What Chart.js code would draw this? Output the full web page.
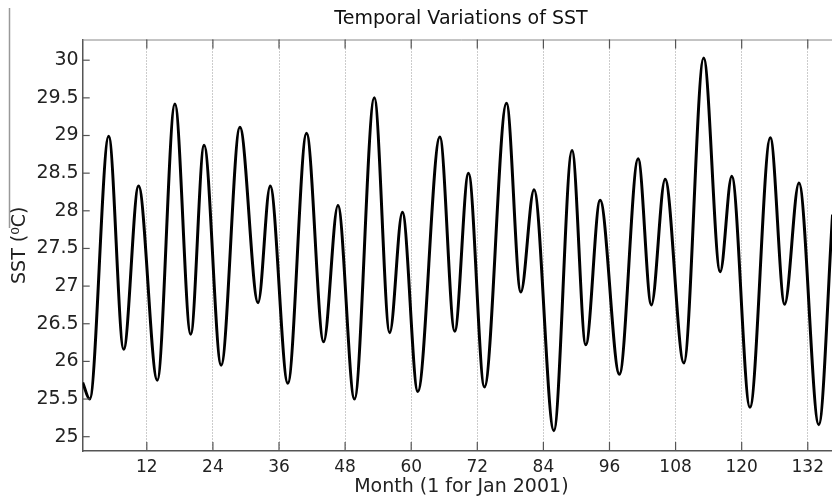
<!DOCTYPE html>
<html>
<head>
<meta charset="utf-8">
<script src="https://cdn.jsdelivr.net/npm/chart.js@4/dist/chart.umd.min.js"></script>
<style>
  body { margin: 0; background: #fff; }
  #wrap { width: 832px; height: 500px; overflow: hidden; position: relative; }
</style>
</head>
<body>
<div id="wrap"><canvas id="sstChart" width="842" height="500"></canvas></div>
<script>
// turning points of the curve (month, SST in deg C)
const months = [0.36, 1.63, 5.08, 7.8, 10.5, 13.9, 17.1, 19.97, 22.4, 25.5, 28.9, 32.2, 34.4, 37.6,
  41.0, 44.1, 46.7, 49.7, 53.3, 56.1, 58.4, 61.2, 65.2, 67.9, 70.4, 73.3, 77.3, 79.9, 82.3, 85.9,
  89.2, 91.7, 94.3, 97.8, 101.2, 103.6, 106.1, 109.5, 113.1, 116.1, 118.2, 121.5, 125.2, 127.8,
  130.4, 134.0, 136.5];
const sst = [25.72, 25.50, 28.99, 26.16, 28.33, 25.75, 29.42, 26.36, 28.87, 25.95, 29.11, 26.78, 28.33, 25.71,
  29.03, 26.26, 28.07, 25.50, 29.50, 26.38, 27.98, 25.60, 28.98, 26.40, 28.50, 25.66, 29.43, 26.92, 28.28, 25.08,
  28.80, 26.22, 28.14, 25.83, 28.69, 26.75, 28.42, 25.98, 30.03, 27.19, 28.46, 25.39, 28.97, 26.76,
  28.37, 25.16, 27.95];

const xTicks = [12, 24, 36, 48, 60, 72, 84, 96, 108, 120, 132];
const yTicks = [25, 25.5, 26, 26.5, 27, 27.5, 28, 28.5, 29, 29.5, 30];

const chartTitle = "Temporal Variations of SST";
const xTitle = "Month (1 for Jan 2001)";
const yTitle = "SST (\u2070C)";

const FONT = "'DejaVu Sans', Verdana, sans-serif";

// matlab-ish frame: top line, inward ticks, title, and the stray line at the far left
const frame = {
  id: "frame",
  afterDraw(chart) {
    const { ctx, chartArea: a, scales } = chart;
    ctx.save();
    ctx.strokeStyle = "#888";
    ctx.lineWidth = 1;
    ctx.beginPath();
    ctx.moveTo(a.left, a.top + 0.5);
    ctx.lineTo(a.right, a.top + 0.5);
    ctx.stroke();

    ctx.strokeStyle = "#555";
    ctx.lineWidth = 1.2;
    xTicks.forEach(v => {
      const x = scales.x.getPixelForValue(v);
      ctx.beginPath();
      ctx.moveTo(x, a.bottom); ctx.lineTo(x, a.bottom - 9);
      ctx.moveTo(x, a.top); ctx.lineTo(x, a.top + 9);
      ctx.stroke();
    });
    yTicks.forEach(v => {
      const y = scales.y.getPixelForValue(v);
      ctx.beginPath();
      ctx.moveTo(a.left, y); ctx.lineTo(a.left + 7, y);
      ctx.stroke();
    });

    ctx.strokeStyle = "#999";
    ctx.lineWidth = 1.5;
    ctx.beginPath();
    ctx.moveTo(9.5, 8); ctx.lineTo(9.5, 228);
    ctx.stroke();

    ctx.fillStyle = "#111";
    ctx.font = "19px " + FONT;
    ctx.textAlign = "center";
    ctx.textBaseline = "middle";
    ctx.fillText(chartTitle, 461, 19);
    ctx.restore();
  }
};

new Chart(document.getElementById("sstChart"), {
  type: "line",
  data: {
    datasets: [{
      data: months.map((m, i) => ({ x: m, y: sst[i] })),
      borderColor: "#000",
      borderWidth: 3,
      pointRadius: 0,
      fill: false,
      cubicInterpolationMode: "monotone"
    }]
  },
  options: {
    responsive: false,
    animation: false,
    devicePixelRatio: 1,
    layout: { padding: { top: 39.5, right: 2, left: 0, bottom: 0 } },
    plugins: { legend: { display: false }, tooltip: { enabled: false } },
    scales: {
      x: {
        type: "linear",
        min: 0.36,
        max: 137.85,
        afterBuildTicks: s => { s.ticks = xTicks.map(v => ({ value: v })); },
        afterFit: s => { s.height = 49; },
        grid: { color: "#999", lineWidth: 1, drawTicks: false },
        border: { display: true, color: "#555", width: 1.5, dash: [1, 2] },
        ticks: {
          font: { family: FONT, size: 17 },
          color: "#222",
          padding: 6,
          maxRotation: 0,
          autoSkip: false,
          callback: v => String(v)
        },
        title: {
          display: true,
          text: xTitle,
          color: "#222",
          font: { family: FONT, size: 19 },
          padding: { top: 0, bottom: 2 }
        }
      },
      y: {
        min: 24.81,
        max: 30.275,
        afterBuildTicks: s => { s.ticks = yTicks.map(v => ({ value: v })); },
        afterFit: s => { s.width = 82.7; },
        grid: { display: false, drawTicks: false },
        border: { display: true, color: "#555", width: 1.5 },
        ticks: {
          font: { family: FONT, size: 19 },
          color: "#222",
          padding: 4,
          callback: v => String(v)
        },
        title: {
          display: true,
          text: yTitle,
          color: "#222",
          font: { family: FONT, size: 19 },
          padding: { top: 9, bottom: 0 }
        }
      }
    }
  },
  plugins: [frame]
});
</script>
</body>
</html>
